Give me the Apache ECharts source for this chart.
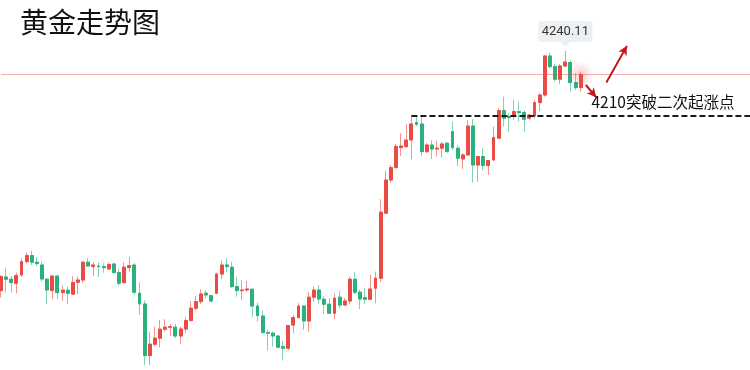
<!DOCTYPE html>
<html><head><meta charset="utf-8">
<script src="https://cdn.jsdelivr.net/npm/echarts@6/dist/echarts.min.js"></script>
<style>html,body{margin:0;padding:0;background:#fff}#c{width:750px;height:370px}</style>
</head><body><div id="c"></div>
<script>
const titleText = '黄金走势图';
const noteText = '4210突破二次起涨点';
const opens = [4120.3,4127.1,4126.0,4124.0,4128.1,4134.8,4137.8,4134.5,4133.1,4126.0,
4120.3,4127.6,4119.3,4120.5,4118.5,4124.5,4125.6,4134.5,4132.3,4132.6,
4132.3,4131.1,4133.6,4129.3,4124.3,4131.8,4133.1,4119.0,4113.6,4087.8,
4093.5,4096.5,4101.0,4102.0,4102.0,4097.6,4101.1,4105.3,4111.5,4114.8,
4119.0,4117.8,4119.0,4128.6,4133.1,4132.0,4122.3,4120.3,4120.6,4121.0,
4112.6,4107.6,4099.3,4099.0,4097.6,4092.3,4091.5,4103.1,4106.8,4112.6,
4105.1,4117.0,4120.6,4116.0,4113.5,4109.0,4117.0,4113.1,4115.1,4126.0,
4119.5,4116.8,4116.0,4121.5,4126.5,4159.0,4175.6,4181.8,4191.8,4192.3,
4195.6,4204.3,4203.6,4189.8,4193.1,4191.1,4191.5,4194.0,4199.8,4191.5,
4186.1,4188.1,4202.6,4183.1,4187.3,4182.8,4185.6,4196.5,4210.3,4207.3,
4207.3,4209.8,4209.3,4206.5,4207.6,4214.3,4218.1,4237.6,4232.3,4226.0,
4232.6,4234.3,4224.3,4221.8];
const closes = [4127.3,4126.0,4124.3,4127.8,4134.8,4137.8,4134.5,4133.8,4126.1,4120.6,
4127.6,4119.3,4120.5,4119.0,4124.3,4125.6,4134.5,4132.6,4133.1,4132.3,
4131.8,4133.3,4129.3,4124.0,4132.0,4132.8,4119.5,4113.6,4087.8,4093.5,
4096.5,4101.0,4102.0,4102.3,4097.6,4101.1,4105.3,4111.5,4114.8,4118.6,
4118.1,4115.1,4128.6,4133.1,4132.3,4122.3,4120.3,4120.6,4121.1,4112.6,
4107.8,4099.3,4099.0,4097.6,4092.0,4091.5,4102.8,4106.8,4112.6,4105.1,
4117.0,4120.6,4116.1,4113.5,4109.0,4116.5,4113.1,4115.1,4126.0,4119.5,
4116.1,4116.0,4121.1,4126.5,4159.5,4175.6,4181.8,4192.3,4192.6,4195.6,
4203.6,4203.5,4189.8,4193.1,4191.1,4191.5,4193.6,4189.8,4191.8,4186.5,
4188.1,4202.6,4183.1,4187.3,4182.8,4185.3,4196.8,4210.3,4206.5,4206.8,
4209.8,4209.3,4206.0,4208.1,4214.3,4218.1,4237.6,4232.3,4226.0,4232.6,
4234.6,4224.3,4221.8,4228.3];
const lows = [4116.8,4119.3,4119.3,4119.0,4127.3,4134.0,4133.1,4132.6,4124.8,4113.6,
4116.0,4116.1,4115.3,4113.6,4118.1,4118.5,4124.0,4132.3,4127.6,4127.0,
4129.3,4131.0,4129.0,4122.6,4124.0,4129.8,4118.1,4108.1,4083.1,4083.1,
4092.3,4092.0,4099.8,4097.6,4096.5,4093.6,4099.3,4105.3,4110.6,4113.6,
4116.3,4114.3,4118.6,4126.0,4129.3,4121.5,4117.3,4115.6,4119.8,4107.0,
4104.8,4099.3,4090.3,4092.3,4091.5,4085.3,4090.6,4099.0,4106.5,4100.6,
4099.8,4114.8,4113.5,4108.6,4108.6,4106.1,4111.5,4112.6,4113.5,4118.6,
4111.1,4113.6,4116.0,4114.0,4124.6,4159.0,4174.3,4181.5,4187.6,4191.5,
4186.0,4202.6,4187.6,4189.0,4186.0,4187.3,4186.8,4189.3,4190.6,4182.6,
4181.0,4188.1,4174.3,4174.8,4180.6,4178.1,4185.3,4196.5,4202.3,4199.8,
4205.6,4204.8,4199.8,4205.6,4206.5,4210.1,4217.3,4231.5,4224.8,4223.5,
4232.3,4219.8,4220.6,4219.8];
const highs = [4128.1,4131.8,4127.6,4129.3,4136.5,4139.3,4140.3,4137.0,4134.8,4126.5,
4127.6,4127.6,4122.6,4122.3,4127.6,4127.3,4134.8,4136.5,4134.5,4134.5,
4134.0,4134.3,4134.3,4131.0,4134.5,4137.3,4134.0,4124.5,4115.3,4099.8,
4102.3,4105.6,4106.0,4103.6,4103.6,4102.3,4107.0,4115.1,4117.6,4121.0,
4120.6,4118.1,4129.3,4135.3,4136.5,4134.8,4127.0,4125.6,4125.1,4121.0,
4114.3,4110.1,4100.6,4099.8,4098.1,4095.1,4103.1,4108.1,4114.0,4113.1,
4119.8,4122.3,4123.1,4117.6,4116.5,4119.0,4120.3,4116.5,4127.3,4129.5,
4120.6,4121.8,4128.1,4129.8,4166.0,4180.3,4183.1,4193.6,4199.0,4203.5,
4208.1,4207.6,4208.1,4194.0,4195.6,4195.3,4194.8,4194.3,4204.8,4193.1,
4189.0,4205.6,4206.0,4187.6,4191.5,4185.6,4202.3,4211.5,4217.3,4209.0,
4215.6,4214.8,4210.6,4208.6,4215.6,4219.0,4238.1,4239.3,4233.6,4233.6,
4240.11,4235.6,4229.0,4229.8];
// time slots (147 bars wide, only the first 114 have traded)
const categories = Array.from({length:147}, (_, i) => 'K' + (i + 1));
const supportLevel = 4207.6;
const peakIndex = 110;
const upArrow = [[118.07, 4224.3], [121.83, 4242.6]];
const downArrow = [[114.04, 4223.1], [116.43, 4217.0]];
const noteAnchor = [115.4, 4214.6];
const yMin = 4080.6, yMax = 4265.6;

const UP = '#ea4c45', DOWN = '#2bb17c';
const UP_W = '#f3938f', DOWN_W = '#83d2b1';
const last = closes.length - 1;

const chart = echarts.init(document.getElementById('c'), null, {renderer:'canvas'});
chart.setOption({
  animation:false,
  backgroundColor:'#ffffff',
  title:{text:titleText,left:15,top:3,textStyle:{fontFamily:'Noto Sans CJK SC',fontSize:28,fontWeight:'normal',color:'#111'}},
  grid:{left:1,right:0,top:0,bottom:0},
  xAxis:{type:'category',data:categories,boundaryGap:false,show:false},
  yAxis:{type:'value',min:yMin,max:yMax,show:false,splitLine:{show:false}},
  series:[
    {type:'candlestick',silent:true,barWidth:3.4,
     data:opens.map((o,i)=>[o,closes[i],lows[i],highs[i]]),
     itemStyle:{color:UP_W,color0:DOWN_W,borderColor:UP_W,borderColor0:DOWN_W,borderWidth:1}},
    {type:'candlestick',silent:true,barWidth:3.4,
     data:opens.map((o,i)=>[o,closes[i],Math.min(o,closes[i]),Math.max(o,closes[i])]),
     itemStyle:{color:UP,color0:DOWN,borderColor:UP,borderColor0:DOWN,borderWidth:1},
     markLine:{silent:true,symbol:['none','none'],label:{show:false},animation:false,
       data:[
         {yAxis:closes[last],lineStyle:{color:'rgba(236,79,73,0.45)',width:1,type:'solid'}},
         [{coord:[categories[80],supportLevel],lineStyle:{color:'#1b1b1b',width:2,type:[6,3]}},
          {coord:[categories[146],supportLevel]}],
         [{coord:upArrow[0],symbol:'none',lineStyle:{color:'#c3161c',width:2,type:'solid'}},
          {coord:upArrow[1],symbol:'arrow',symbolSize:[7,9]}],
         [{coord:downArrow[0],symbol:'none',lineStyle:{color:'#c3161c',width:2,type:'solid'}},
          {coord:downArrow[1],symbol:'arrow',symbolSize:[7,9]}]
       ]},
     markPoint:{silent:true,animation:false,
       data:[
         {coord:[categories[last],closes[last]],symbol:'circle',symbolSize:26,
          itemStyle:{color:{type:'radial',x:0.5,y:0.5,r:0.5,colorStops:[{offset:0,color:'rgba(236,79,73,0.28)'},{offset:1,color:'rgba(236,79,73,0)'}]}},
          label:{show:false}},
         {coord:[categories[peakIndex],highs[peakIndex]],
          symbol:'path://M3,0 H51 Q54,0 54,3 V18 Q54,21 51,21 H32 L27,26 L22,21 H3 Q0,21 0,18 V3 Q0,0 3,0 Z',
          symbolSize:[54,26],symbolOffset:[0,-17],symbolKeepAspect:false,
          itemStyle:{color:'#edf0f3'},
          label:{show:true,position:'inside',offset:[0,-2.5],formatter:()=>highs[peakIndex].toFixed(2),
            color:'#333',fontSize:13,fontFamily:'Roboto, sans-serif'}},
         {coord:noteAnchor,symbol:'rect',symbolSize:1,itemStyle:{color:'rgba(0,0,0,0)'},
          label:{show:true,position:'right',distance:0,formatter:noteText,color:'#111',fontSize:15.5,
            fontFamily:'Noto Sans CJK SC'}}
       ]}}
  ]
});
</script></body></html>
